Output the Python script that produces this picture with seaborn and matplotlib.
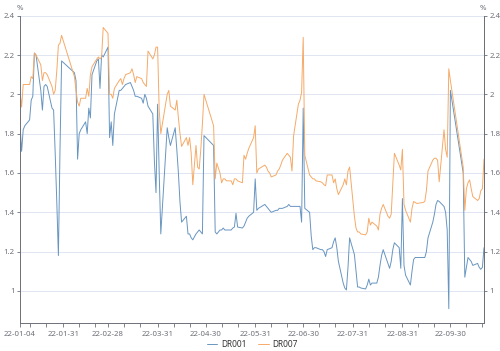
import pandas as pd
import matplotlib
matplotlib.use("Agg")
import matplotlib.pyplot as plt
import seaborn as sns

# interbank trading calendar, 2022
start_date = "2022-01-04"
end_date = "2022-10-21"
holidays = ["2022-01-31", "2022-02-01", "2022-02-02", "2022-02-03", "2022-02-04",
            "2022-04-04", "2022-04-05", "2022-05-02", "2022-05-03", "2022-05-04",
            "2022-06-03", "2022-09-12",
            "2022-10-03", "2022-10-04", "2022-10-05", "2022-10-06", "2022-10-07"]
working_weekends = ["2022-01-29", "2022-01-30", "2022-04-02", "2022-04-24",
                    "2022-05-07", "2022-10-08", "2022-10-09"]

dr001 = [
    # Jan
    1.85, 1.71, 1.82, 1.84, 1.87, 1.97, 1.99, 2.21, 2.20, 2.02, 1.92, 2.04, 2.05, 2.04,
    1.93, 1.92, 1.70, 1.45, 1.18, 1.72, 2.17,
    # Feb
    2.11, 2.07, 1.67, 1.80, 1.82, 1.86, 1.80, 1.93, 1.88, 2.10, 2.17, 2.18, 2.03, 2.20,
    2.19, 2.24,
    # Mar
    1.78, 1.86, 1.74, 1.90, 2.02, 2.02, 2.03, 2.04, 2.05, 2.06, 2.04, 2.02, 1.99, 1.99,
    1.98, 1.955, 2.00, 1.98, 1.94, 1.90, 1.66, 1.50, 1.95,
    # Apr
    1.60, 1.29, 1.83, 1.78, 1.74, 1.83, 1.72, 1.60, 1.45, 1.35, 1.38, 1.29, 1.29, 1.27,
    1.26, 1.29, 1.30, 1.31, 1.30, 1.29, 1.79,
    # May
    1.74, 1.30, 1.29, 1.31, 1.31, 1.32, 1.31, 1.31, 1.31, 1.32, 1.325, 1.395, 1.325,
    1.32, 1.33, 1.35, 1.37, 1.38, 1.40, 1.57,
    # Jun
    1.41, 1.42, 1.44, 1.43, 1.42, 1.41, 1.40, 1.41, 1.41, 1.42, 1.42, 1.42, 1.43, 1.44,
    1.43, 1.43, 1.43, 1.43, 1.43, 1.35, 1.93,
    # Jul
    1.42, 1.40, 1.28, 1.21, 1.22, 1.22, 1.21, 1.21, 1.20, 1.175, 1.21, 1.22, 1.25, 1.27,
    1.22, 1.15, 1.04, 1.015, 1.005, 1.12, 1.27,
    # Aug
    1.185, 1.10, 1.02, 1.02, 1.015, 1.01, 1.03, 1.06, 1.03, 1.04, 1.04, 1.07, 1.13,
    1.18, 1.21, 1.14, 1.115, 1.15, 1.21, 1.245, 1.22, 1.115, 1.47,
    # Sep
    1.13, 1.08, 1.03, 1.10, 1.16, 1.17, 1.17, 1.17, 1.17, 1.20, 1.27, 1.35, 1.39, 1.44,
    1.46, 1.455, 1.43, 1.40, 1.31, 0.91, 2.02,
    # Oct
    1.60, 1.07, 1.12, 1.17, 1.16, 1.15, 1.13, 1.14, 1.12, 1.11, 1.12, 1.22,
]

dr007 = [
    # Jan
    2.02, 1.935, 2.05, 2.05, 2.05, 2.09, 2.08, 2.21, 2.20, 2.15, 2.07, 2.11, 2.11, 2.10,
    2.04, 2.00, 2.02, 2.12, 2.25, 2.26, 2.30,
    # Feb
    2.09, 2.02, 1.96, 1.94, 1.98, 1.98, 2.03, 1.99, 2.10, 2.14, 2.18, 2.19, 2.18, 2.19,
    2.34, 2.31,
    # Mar
    2.00, 2.00, 1.98, 2.03, 2.07, 2.08, 2.05, 2.08, 2.10, 2.11, 2.13, 2.10, 2.06, 2.09,
    2.08, 2.06, 2.05, 2.04, 2.22, 2.18, 2.20, 2.24, 2.24,
    # Apr
    1.92, 1.80, 2.00, 2.02, 1.94, 1.92, 1.97, 1.88, 1.80, 1.735, 1.78, 1.74, 1.78, 1.70,
    1.54, 1.74, 1.63, 1.62, 1.72, 1.85, 2.00,
    # May
    1.84, 1.57, 1.65, 1.60, 1.55, 1.57, 1.57, 1.56, 1.56, 1.54, 1.57, 1.57, 1.56, 1.55,
    1.69, 1.67, 1.70, 1.725, 1.78, 1.84,
    # Jun
    1.60, 1.62, 1.64, 1.63, 1.61, 1.60, 1.58, 1.59, 1.61, 1.62, 1.64, 1.665, 1.70, 1.69,
    1.68, 1.61, 1.79, 1.95, 1.97, 2.01, 2.29,
    # Jul
    1.69, 1.59, 1.58, 1.57, 1.57, 1.56, 1.555, 1.55, 1.54, 1.535, 1.59, 1.59, 1.55,
    1.57, 1.52, 1.49, 1.54, 1.57, 1.54, 1.61, 1.63,
    # Aug
    1.38, 1.32, 1.30, 1.30, 1.29, 1.285, 1.30, 1.37, 1.335, 1.35, 1.33, 1.31, 1.39,
    1.42, 1.44, 1.38, 1.37, 1.39, 1.55, 1.70, 1.64, 1.615, 1.72,
    # Sep
    1.44, 1.41, 1.35, 1.42, 1.455, 1.45, 1.445, 1.45, 1.455, 1.51, 1.61, 1.665, 1.675,
    1.675, 1.665, 1.555, 1.82, 1.72, 1.68, 2.13, 2.07,
    # Oct
    1.63, 1.41, 1.52, 1.55, 1.565, 1.52, 1.48, 1.46, 1.47, 1.51, 1.52, 1.67,
]

series_names = ["DR001", "DR007"]
series_colors = ["#6895c0", "#f5aa68"]
y_ticks = [1.0, 1.2, 1.4, 1.6, 1.8, 2.0, 2.2, 2.4]
month_ends = ["2022-01-31", "2022-02-28", "2022-03-31", "2022-04-30", "2022-05-31",
              "2022-06-30", "2022-07-31", "2022-08-31", "2022-09-30"]

days = pd.bdate_range(start_date, end_date)
days = days.difference(pd.to_datetime(holidays)).union(pd.to_datetime(working_weekends))
days = days.sort_values()

df = pd.concat([
    pd.DataFrame({"date": days, "value": dr001, "series": series_names[0]}),
    pd.DataFrame({"date": days, "value": dr007, "series": series_names[1]}),
])

sns.set_theme(style="white")
plt.rcParams["font.family"] = ["Noto Sans", "DejaVu Sans"]

axis_grey = "#6e7079"
fig = plt.figure(figsize=(5.0, 3.51), dpi=100)
ax = fig.add_axes([0.040, 0.0798, 0.928, 0.8755])

sns.lineplot(data=df, x="date", y="value", hue="series", hue_order=series_names,
             palette=series_colors, linewidth=0.7, ax=ax, legend=True)

ax.set_xlim(pd.Timestamp(start_date), pd.Timestamp(end_date))
ax.set_ylim(0.837, 2.4)
ax.set_yticks(y_ticks)
ax.set_yticklabels([f"{v:g}" for v in y_ticks])
ax.set_xlabel("")
ax.set_ylabel("")

major = pd.to_datetime([start_date] + month_ends)
ax.set_xticks(major)
ax.set_xticklabels([d.strftime("%y-%m-%d") for d in major])
minor = [pd.Timestamp(f"2022-{m:02d}-{d}") for m in range(1, 11) for d in (10, 20)]
minor = [t for t in minor if t <= pd.Timestamp(end_date)]
ax.set_xticks(minor, minor=True)

ax.grid(axis="y", color="#e0e6f1", linewidth=0.7)
ax.spines["top"].set_visible(False)
for side in ["left", "right", "bottom"]:
    ax.spines[side].set_color(axis_grey)
    ax.spines[side].set_linewidth(0.7)

ax.tick_params(axis="x", which="both", direction="out", length=3, width=0.6,
               color=axis_grey, labelsize=5.6, labelcolor=axis_grey, pad=2.5, bottom=True)
ax.tick_params(axis="y", direction="out", length=2.5, width=0.6, color=axis_grey,
               labelsize=5.6, labelcolor=axis_grey, pad=1.5, left=True)

ax2 = ax.twinx()
ax2.set_ylim(ax.get_ylim())
ax2.set_yticks(y_ticks)
ax2.set_yticklabels([f"{v:g}" for v in y_ticks])
ax2.tick_params(axis="y", direction="out", length=2.5, width=0.6, color=axis_grey,
                labelsize=5.6, labelcolor=axis_grey, pad=1.5, right=True)
for side in ["top", "left", "bottom"]:
    ax2.spines[side].set_visible(False)
ax2.spines["right"].set_color(axis_grey)
ax2.spines["right"].set_linewidth(0.7)
ax2.grid(False)

fig.text(0.040, 0.985, "%", ha="center", va="top", fontsize=5.6, color=axis_grey)
fig.text(0.966, 0.985, "%", ha="center", va="top", fontsize=5.6, color=axis_grey)

handles, labels = ax.get_legend_handles_labels()
ax.get_legend().remove()
fig.legend(handles, labels, loc="lower center", bbox_to_anchor=(0.505, -0.015), ncol=2,
           frameon=False, fontsize=6, handlelength=1.25, columnspacing=1.4,
           handletextpad=0.45, labelcolor="#333333")

fig.savefig("out.png", dpi=100)
